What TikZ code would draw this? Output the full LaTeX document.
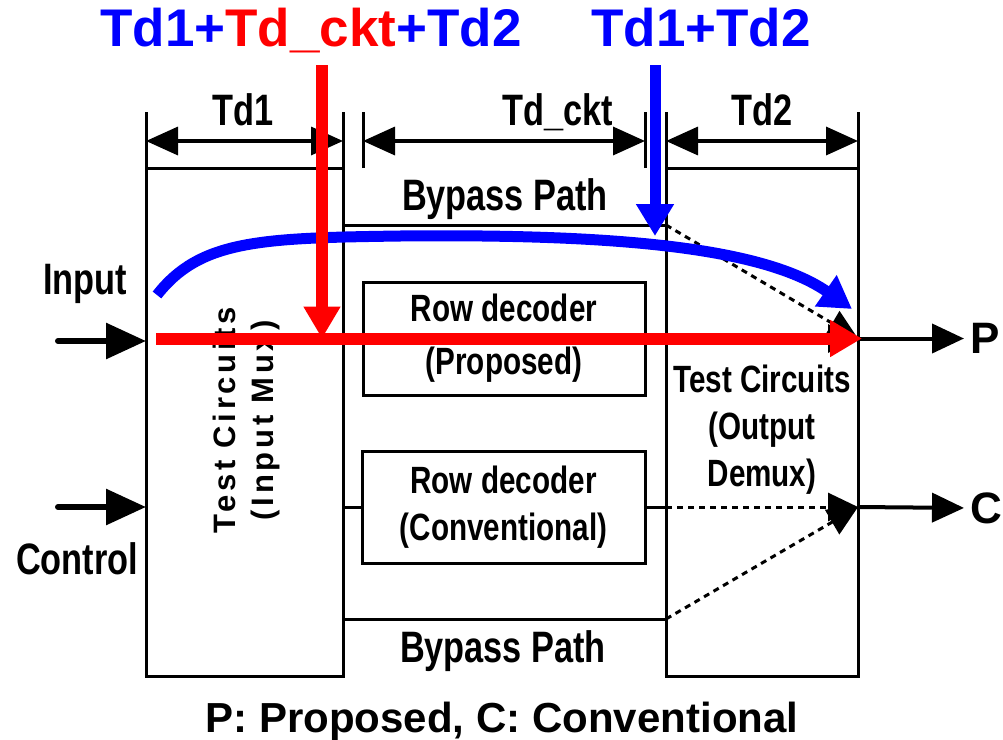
\documentclass[tikz,border=0pt]{standalone}
\usepackage{fontspec}
\setmainfont{Liberation Sans}
\newfontfamily\narrowfont[FakeStretch=0.78]{Liberation Sans}
\newfontfamily\spacedfont[LetterSpace=12]{Liberation Sans}
\usetikzlibrary{arrows.meta, positioning}

\tikzset{
  blk/.style={draw, line width=3pt, inner sep=0pt, outer sep=0pt},
  wire/.style={line width=3pt},
  dotl/.style={line width=3pt, dash pattern=on 6pt off 5pt, arrows={-Triangle[length=30pt,width=28pt]}},
  dim/.style={line width=3.5pt, arrows={Triangle[length=32pt,width=28pt]-Triangle[length=32pt,width=28pt]}},
  inarr/.style={line width=6pt, line cap=round, arrows={-Triangle[length=40pt,width=35pt]}},
  outarr/.style={line width=4pt, arrows={-Triangle[length=32pt,width=29pt]}},
  redarr/.style={red, line width=12pt, arrows={-Triangle[length=32pt,width=35pt]}},
  bluearr/.style={blue, line width=11pt, arrows={-Triangle[length=32pt,width=36pt]}},
  lbl/.style={font=\narrowfont\bfseries\fontsize{44}{50}\selectfont, inner sep=0pt},
  dec/.style={font=\narrowfont\bfseries\fontsize{38}{47}\selectfont, align=center},
  toplbl/.style={blue, font=\bfseries\fontsize{53}{60}\selectfont, inner sep=0pt},
  sidelbl/.style={font=\bfseries\fontsize{44}{50}\selectfont, inner sep=0pt}
}

\begin{document}
\begin{tikzpicture}[x=1pt, y=-1pt]
\useasboundingbox (0,0) rectangle (1003,739);

% Boxes
\node[blk, minimum width=197pt, minimum height=508pt] (mux) at (244.5,422) {};
\node[blk, minimum width=192pt, minimum height=508pt] (demux) at (762,422) {};
\node[blk, dec, minimum width=282pt, minimum height=113pt] (rdp) at (504,338.5) {Row decoder\\[6pt](Proposed)};
\node[blk, dec, minimum width=283pt, minimum height=112pt] (rdc) at (503.5,507) {Row decoder\\(Conventional)};

\node[rotate=90, align=center, inner sep=0pt, font=\spacedfont\bfseries\fontsize{31}{38}\selectfont] (muxtxt) at (246,420) {Test Circuits\\(Input Mux)};
\node[dec, inner sep=0pt] (demuxtxt) at (762,430) {Test Circuits\\(Output\\Demux)};

% Bypass paths
\coordinate (bypT) at (666,225);
\coordinate (bypB) at (666,619);
\draw[wire] (bypT -| mux.east) -- (bypT);
\draw[wire] (bypB -| mux.east) -- (bypB);
\node[lbl, anchor=base] (bpTlbl) at (505,210) {Bypass Path};
\node[lbl, anchor=base] (bpBlbl) at (503,662) {Bypass Path};

% Decoder links and output mux
\coordinate (jP) at (rdp.east -| demux.east);
\coordinate (jC) at (rdc.east -| demux.east);
\draw[wire] (rdc.west) -- (rdc.west -| mux.east);
\draw[wire] (rdc.east) -- (rdc.east -| demux.west);
\draw[dotl] (bypT) -- (jP);
\draw[dotl] (rdp.east -| demux.west) -- (jP);
\draw[dotl] (rdc.east -| demux.west) -- (jC);
\draw[dotl] (bypB) -- (jC);

% Outputs
\node[sidelbl, anchor=west] (oP) at (970,338.5) {P};
\node[sidelbl, anchor=west] (oC) at (970,508) {C};
\draw[outarr, shorten >=6pt] (jP) -- (oP.west);
\draw[outarr, shorten >=6pt] (jC) -- (oC.west);

% Inputs
\node[lbl] (inlbl) at (85,284) {Input};
\node[lbl] (ctllbl) at (77,559) {Control};
\coordinate (inA) at (58,341);
\coordinate (inB) at (58,507);
\draw[inarr] (inA) -- (inA -| mux.west);
\draw[inarr] (inB) -- (inB -| mux.west);

% Delay dimensions
\coordinate (ckL) at (rdp.west |- mux.north);
\coordinate (ckR) at (rdp.east |- mux.north);
\foreach \p in {mux.north west, mux.north east, ckL, ckR, demux.north west, demux.north east}
  \draw[wire] (\p) -- ++(0,-56);
\draw[dim] ([yshift=27pt]mux.north west) -- ([yshift=27pt]mux.north east);
\draw[dim] ([yshift=27pt]ckL) -- ([yshift=27pt]ckR);
\draw[dim] ([yshift=27pt]demux.north west) -- ([yshift=27pt]demux.north east);
\node[lbl, anchor=base] (td1) at (243,125) {Td1};
\node[lbl, anchor=base] (tdckt) at (558,125) {Td\_ckt};
\node[lbl, anchor=base] (td2) at (762,125) {Td2};

% Total delays
\node[toplbl, anchor=base] (sumA) at (311,46) {Td1+\textcolor{red}{Td\_ckt}+Td2};
\node[toplbl, anchor=base] (sumB) at (701,46) {Td1+Td2};

% Bypass route (blue)
\coordinate (bstart) at (157,295);
\coordinate (bEnd) at (852,309);
\draw[bluearr] (bstart) .. controls (200,240) and (260,238) .. (400,236)
  .. controls (600,234) and (760,245) .. (bEnd);
\coordinate (btop) at (655,65);
\coordinate (bhit) at (655,236);
\draw[bluearr] (btop) -- (bhit);

% Decoder route (red)
\coordinate (rtop) at (322,65);
\coordinate (rstart) at (156,338.5);
\draw[redarr] (rtop) -- (rtop |- rdp.center);
\draw[redarr] (rstart) -- ([xshift=4pt]jP);

% Legend
\node[font=\bfseries\fontsize{42}{48}\selectfont, anchor=base, inner sep=0pt] (legend) at (502,732) {P: Proposed, C: Conventional};
\end{tikzpicture}
\end{document}
